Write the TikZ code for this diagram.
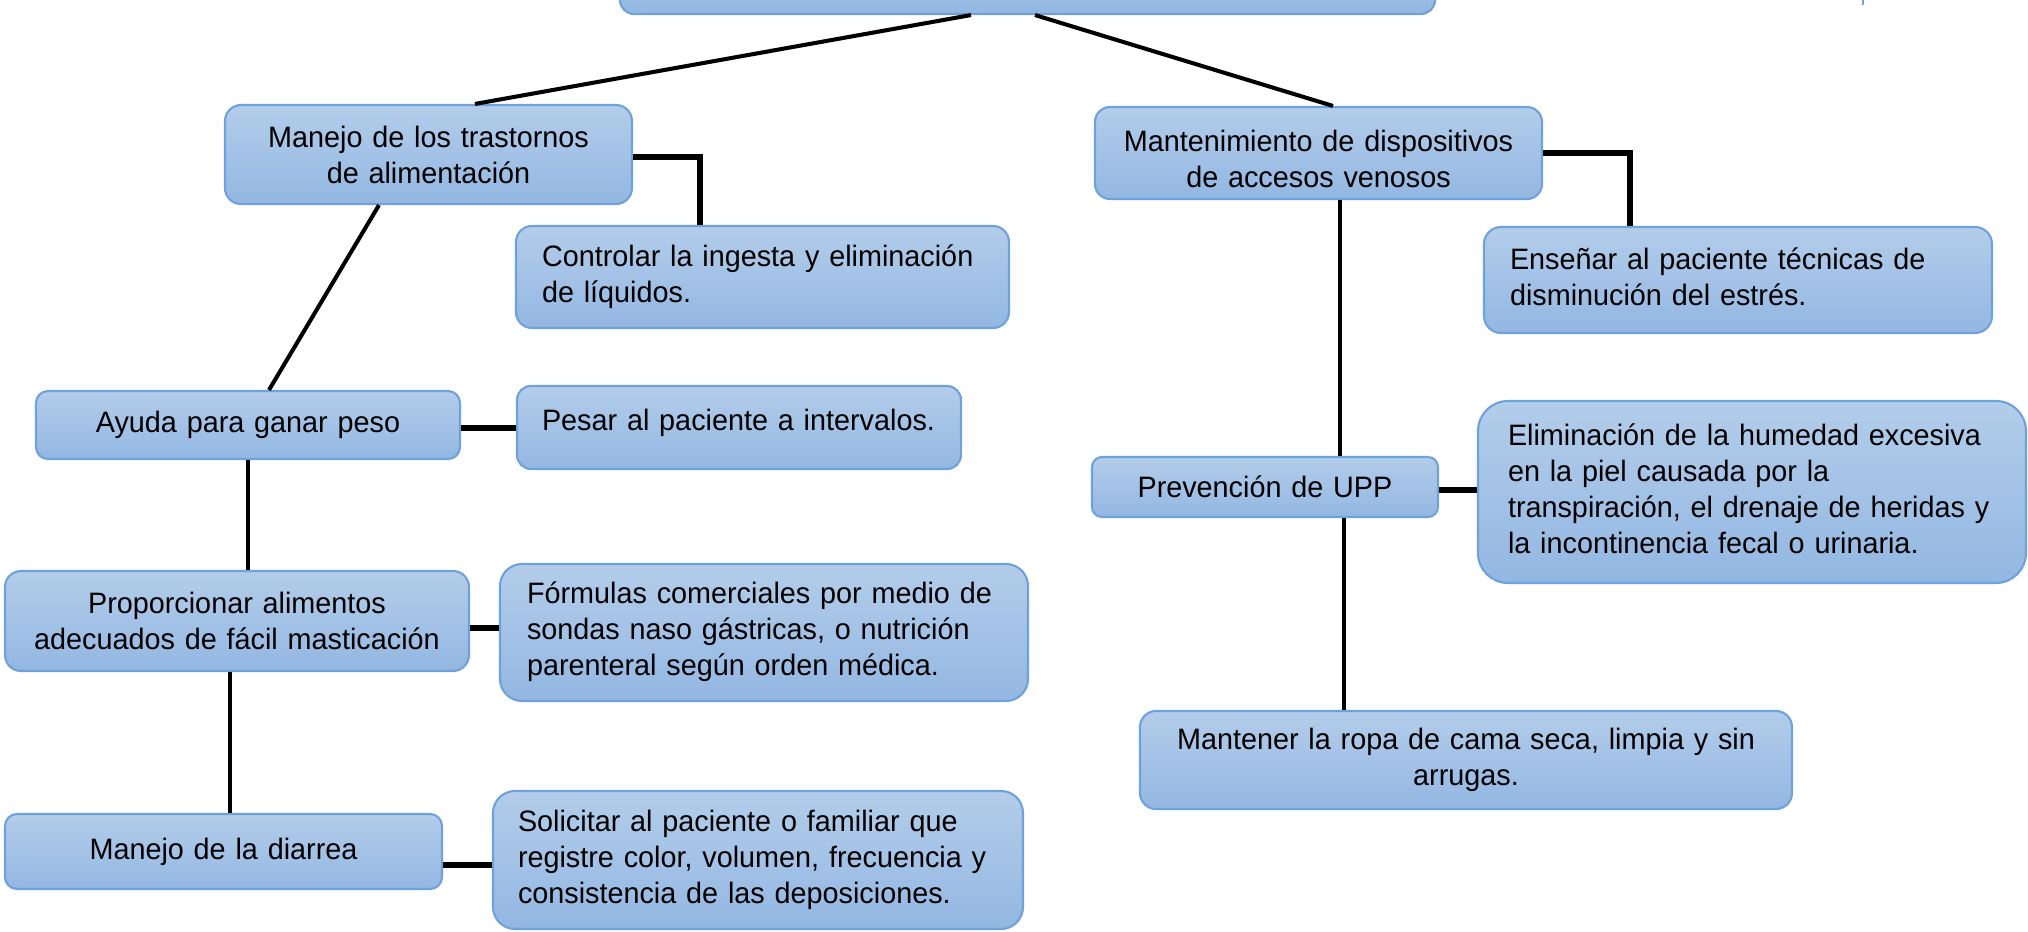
\documentclass[tikz,border=0pt]{standalone}
\usepackage{fontspec}
\setmainfont[FakeStretch=0.975]{Liberation Sans}
\usepackage{tikz}
\usetikzlibrary{calc,positioning,shapes}
\definecolor{cajaarriba}{HTML}{B3CDEA}
\definecolor{cajaabajo}{HTML}{93B7E2}
\definecolor{borde}{HTML}{6FA2DA}
\newcommand{\renglones}[1]{\begin{tabular}{@{}l@{}}#1\end{tabular}}
\tikzset{%
	caja/.style     = {draw=borde, line width=0.6pt, rectangle, top color=cajaarriba, bottom color=cajaabajo, inner sep=0pt, text=black},
	centrado/.style = {caja, align=center},
	izq/.style      = {caja, align=left},
	linea/.style    = {line width=1.15pt, black},
	enlace/.style   = {line width=1.5pt, black},
}
\begin{document}
\begin{tikzpicture}[font=\fontsize{8.4pt}{10.25pt}\selectfont]
	\useasboundingbox (0,0) rectangle (20.28,-9.32);
	\node[caja, minimum width=8.15cm, minimum height=0.74cm, rounded corners=0.14cm] (raiz) at (10.275,0.23) {};
	\draw[draw=borde, line width=0.7pt] (18.63,0) -- (18.63,-0.045);
	% rama izquierda
	\node[centrado, minimum width=4.07cm, minimum height=0.99cm, text width=3.67cm, rounded corners=0.16cm] (manejo) at (4.285,-1.545) {Manejo de los trastornos\\de alimentación};
	\node[izq, minimum width=4.93cm, minimum height=1.02cm, text width=4.41cm, rounded corners=0.16cm] (controlar) at (7.625,-2.77) {\renglones{Controlar la ingesta y eliminación\\de líquidos.}};
	\node[centrado, minimum width=4.24cm, minimum height=0.68cm, text width=3.84cm, rounded corners=0.12cm] (ayuda) at (2.48,-4.25) {Ayuda para ganar peso};
	\node[izq, minimum width=4.44cm, minimum height=0.83cm, text width=3.94cm, text depth=0.19cm, rounded corners=0.14cm] (pesar) at (7.39,-4.275) {\renglones{Pesar al paciente a intervalos.}};
	\node[centrado, minimum width=4.64cm, minimum height=1.00cm, text width=4.24cm, rounded corners=0.16cm] (proporcionar) at (2.37,-6.21) {Proporcionar alimentos\\adecuados de fácil masticación};
	\node[izq, minimum width=5.28cm, minimum height=1.37cm, text width=4.74cm, rounded corners=0.22cm] (formulas) at (7.64,-6.325) {\renglones{Fórmulas comerciales por medio de\\sondas naso gástricas, o nutrición\\parenteral según orden médica.}};
	\node[centrado, minimum width=4.37cm, minimum height=0.75cm, text width=3.97cm, rounded corners=0.12cm] (diarrea) at (2.235,-8.515) {Manejo de la diarrea};
	\node[izq, minimum width=5.30cm, minimum height=1.38cm, text width=4.80cm, rounded corners=0.22cm] (solicitar) at (7.58,-8.60) {\renglones{Solicitar al paciente o familiar que\\registre color, volumen, frecuencia y\\consistencia de las deposiciones.}};
	% rama derecha
	\node[centrado, minimum width=4.47cm, minimum height=0.92cm, text width=4.07cm, text height=0.34cm, rounded corners=0.15cm] (mantenimiento) at (13.185,-1.53) {Mantenimiento de dispositivos\\de accesos venosos};
	\node[izq, minimum width=5.08cm, minimum height=1.06cm, text width=4.56cm, rounded corners=0.17cm] (ensenar) at (17.38,-2.80) {\renglones{Enseñar al paciente técnicas de\\disminución del estrés.}};
	\node[centrado, minimum width=3.46cm, minimum height=0.60cm, text width=3.06cm, rounded corners=0.10cm] (prevencion) at (12.65,-4.87) {Prevención de UPP};
	\node[izq, minimum width=5.48cm, minimum height=1.82cm, text width=4.88cm, rounded corners=0.30cm] (eliminacion) at (17.52,-4.92) {\renglones{Eliminación de la humedad excesiva\\en la piel causada por la\\transpiración, el drenaje de heridas y\\la incontinencia fecal o urinaria.}};
	\node[centrado, minimum width=6.52cm, minimum height=0.98cm, text width=6.12cm, rounded corners=0.16cm] (mantener) at (14.66,-7.60) {Mantener la ropa de cama seca, limpia y sin\\arrugas.};
	% conectores
	\draw[linea] ([xshift=-0.565cm]raiz.south) -- ([xshift=0.465cm]manejo.north);
	\draw[linea] ([xshift=0.075cm]raiz.south) -- ([xshift=0.145cm]mantenimiento.north);
	\draw[enlace] ([yshift=-0.025cm]manejo.east) -| ([xshift=-0.625cm]controlar.north);
	\draw[linea] ([xshift=-0.495cm]manejo.south) -- ([xshift=0.21cm]ayuda.north);
	\draw[enlace] ([yshift=-0.03cm]ayuda.east) -- ([yshift=-0.03cm]ayuda.east -| pesar.west);
	\draw[linea] (ayuda.south) -- (ayuda.south |- proporcionar.north);
	\draw[enlace] ([yshift=-0.07cm]proporcionar.east) -- ([yshift=-0.07cm]proporcionar.east -| formulas.west);
	\draw[linea] ([xshift=-0.07cm]proporcionar.south) -- ([xshift=-0.07cm]proporcionar.south |- diarrea.north);
	\draw[enlace] ([yshift=-0.135cm]diarrea.east) -- ([yshift=-0.135cm]diarrea.east -| solicitar.west);
	\draw[enlace] (mantenimiento.east) -| ([xshift=-1.08cm]ensenar.north);
	\draw[linea] ([xshift=0.215cm]mantenimiento.south) -- ([xshift=0.215cm]mantenimiento.south |- prevencion.north);
	\draw[enlace] ([yshift=-0.03cm]prevencion.east) -- ([yshift=-0.03cm]prevencion.east -| eliminacion.west);
	\draw[linea] ([xshift=0.79cm]prevencion.south) -- ([xshift=0.79cm]prevencion.south |- mantener.north);
\end{tikzpicture}
\end{document}
